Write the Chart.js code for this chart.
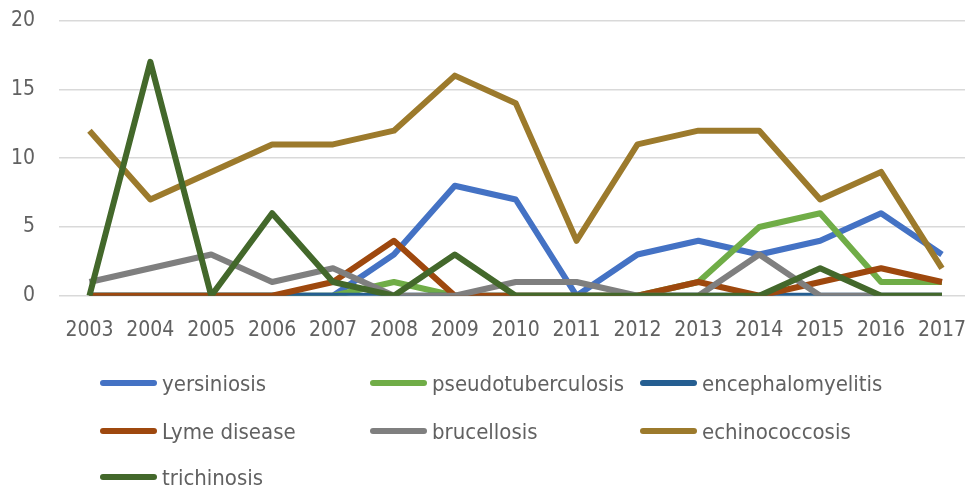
<!DOCTYPE html>
<html>
<head>
<meta charset="utf-8">
<script src="https://cdn.jsdelivr.net/npm/chart.js@4"></script>
<style>
  html, body { margin: 0; padding: 0; background: #fff; }
  #wrap { position: relative; width: 965px; height: 488px; overflow: hidden; }
  #box { position: absolute; left: 0; top: -16px; width: 988px; height: 381px; }
  #legend { position: absolute; left: 0; top: 0; width: 965px; height: 488px; pointer-events: none; }
  .item { position: absolute; height: 30px; display: flex; align-items: center;
          font-family: "DejaVu Sans Condensed", sans-serif;
          font-size: 22px; color: #616161; white-space: nowrap; }
  .sw { width: 57px; height: 6px; border-radius: 3px; margin-right: 5px; flex: none; }
</style>
</head>
<body>
<div id="wrap">
  <div id="box"><canvas id="c"></canvas></div>
  <div id="legend"></div>
</div>
<script>
// years on the x axis
const years = ["2003","2004","2005","2006","2007","2008","2009","2010","2011","2012","2013","2014","2015","2016","2017"];

// cases per year
const yersiniosis        = [0, 0, 0, 0, 0, 3, 8, 7, 0, 3, 4, 3, 4, 6, 3];
const pseudotuberculosis = [0, 0, 0, 0, 0, 1, 0, 0, 0, 0, 1, 5, 6, 1, 1];
const encephalomyelitis  = [0, 0, 0, 0, 0, 0, 0, 0, 0, 0, 0, 0, 0, 0, 0];
const lymeDisease        = [0, 0, 0, 0, 1, 4, 0, 0, 0, 0, 1, 0, 1, 2, 1];
const brucellosis        = [1, 2, 3, 1, 2, 0, 0, 1, 1, 0, 0, 3, 0, 0, 0];
const echinococcosis     = [12, 7, 9, 11, 11, 12, 16, 14, 4, 11, 12, 12, 7, 9, 2];
const trichinosis        = [0, 17, 0, 6, 1, 0, 3, 0, 0, 0, 0, 0, 2, 0, 0];

const yTicks = [0, 5, 10, 15, 20];

const series = [
  { label: "yersiniosis",        data: yersiniosis,        color: "#4472c4" },
  { label: "pseudotuberculosis", data: pseudotuberculosis, color: "#70ad47" },
  { label: "encephalomyelitis",  data: encephalomyelitis,  color: "#255e91" },
  { label: "Lyme disease",       data: lymeDisease,        color: "#9e480e" },
  { label: "brucellosis",        data: brucellosis,        color: "#7f7f7f" },
  { label: "echinococcosis",     data: echinococcosis,     color: "#9c7a2c" },
  { label: "trichinosis",        data: trichinosis,        color: "#43682b" },
];

const FONT = "'DejaVu Sans Condensed', sans-serif";

new Chart(document.getElementById("c"), {
  type: "line",
  data: {
    labels: years,
    datasets: series.map((s, i) => ({
      label: s.label,
      data: s.data,
      borderColor: s.color,
      backgroundColor: s.color,
      borderWidth: 6,
      pointRadius: 0,
      borderJoinStyle: "round",
      borderCapStyle: "butt",
      tension: 0,
      // later series on top, as in the original
      order: series.length - i,
    })),
  },
  options: {
    responsive: true,
    maintainAspectRatio: false,
    animation: false,
    layout: { padding: 0 },
    plugins: { legend: { display: false }, tooltip: { enabled: false } },
    scales: {
      x: {
        offset: true,
        grid: { display: false, drawTicks: false },
        border: { display: false },
        ticks: { color: "#616161", font: { family: FONT, size: 21 }, padding: 22, maxRotation: 0 },
      },
      y: {
        min: 0,
        max: 20,
        afterFit: (s) => { s.width = 59; },
        afterBuildTicks: (s) => { s.ticks = yTicks.map((v) => ({ value: v })); },
        grid: { color: "#d9d9d9", lineWidth: 1.5, drawTicks: false },
        border: { display: false },
        ticks: { color: "#616161", font: { family: FONT, size: 21 }, padding: 24 },
      },
    },
  },
});

// legend in three fixed columns like the original
const cols = [100, 370, 640];
const rows = [383, 431, 477];
const leg = document.getElementById("legend");
series.forEach((s, i) => {
  const el = document.createElement("div");
  el.className = "item";
  el.style.left = cols[i % 3] + "px";
  el.style.top = (rows[Math.floor(i / 3)] - 15) + "px";
  el.innerHTML = '<span class="sw" style="background:' + s.color + '"></span><span>' + s.label + "</span>";
  leg.appendChild(el);
});
</script>
</body>
</html>
